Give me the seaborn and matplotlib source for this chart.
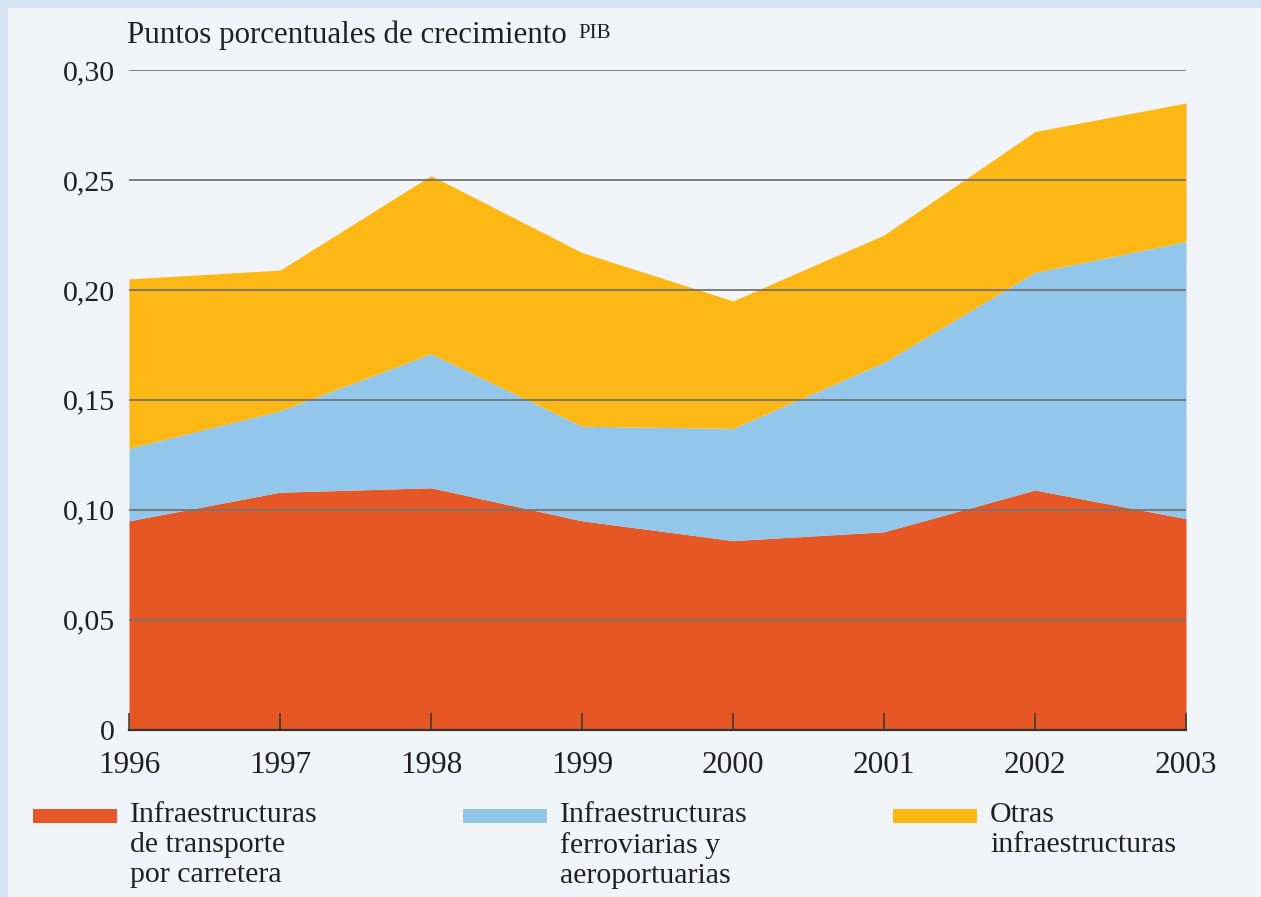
import matplotlib
matplotlib.use('Agg')
import matplotlib.pyplot as plt
from matplotlib.patches import Rectangle
import seaborn as sb
import pandas as pd
import numpy as np

years = [1996, 1997, 1998, 1999, 2000, 2001, 2002, 2003]
road = [0.095, 0.108, 0.110, 0.095, 0.086, 0.090, 0.109, 0.096]
rail_air = [0.033, 0.037, 0.061, 0.043, 0.051, 0.077, 0.099, 0.126]
other = [0.077, 0.064, 0.081, 0.079, 0.058, 0.058, 0.064, 0.063]
labels = ['Infraestructuras\nde transporte\npor carretera',
          'Infraestructuras\nferroviarias y\naeroportuarias',
          'Otras\ninfraestructuras']
yticks = [0, 0.05, 0.10, 0.15, 0.20, 0.25, 0.30]
ytick_labels = ['0', '0,05', '0,10', '0,15', '0,20', '0,25', '0,30']
colors = ['#e55826', '#92c7eb', '#fdb815']

sb.set_theme(style='white')
plt.rcParams['font.family'] = ['Liberation Serif', 'DejaVu Serif']

df = pd.DataFrame({'year': years, 'road': road, 'rail': rail_air, 'other': other})

fig = plt.figure(figsize=(12.61, 8.97), dpi=100)
fig.patch.set_facecolor('#d6e4f2')
# inner light panel
fig.patches.append(Rectangle((8 / 1261, 0), 1, 1 - 8 / 897, transform=fig.transFigure,
                             facecolor='#f1f5f9', edgecolor='none', zorder=-10))

ax = fig.add_axes([129 / 1261, 1 - 729.7 / 897, (1186 - 129) / 1261, (729.7 - 70) / 897])
ax.set_facecolor('none')
ax.stackplot(df['year'], df['road'], df['rail'], df['other'], colors=colors, lw=0)

ax.set_xlim(1996, 2003)
ax.set_ylim(0, 0.30)
ax.set_yticks(yticks)
ax.set_yticklabels(ytick_labels)
ax.set_xticks(years)
ax.set_xticklabels([str(y) for y in years])

ax.set_axisbelow(False)
ax.yaxis.grid(True, color='#737373', lw=1.3)
ax.xaxis.grid(False)
for s in ['left', 'right', 'top']:
    ax.spines[s].set_visible(False)
ax.spines['bottom'].set_color('#333333')
ax.spines['bottom'].set_linewidth(1.6)
ax.spines['bottom'].set_zorder(3)

ax.tick_params(axis='x', direction='in', length=12.5, width=1.1, color='#333333',
               pad=15, labelsize=22.5, labelcolor='#231f20', bottom=True)
ax.tick_params(axis='y', length=0, pad=10, labelsize=21.5, labelcolor='#231f20')

fig.text(127 / 1261, 1 - 35 / 897, 'Puntos porcentuales de crecimiento', fontsize=22.3,
         color='#231f20', va='center', ha='left')
fig.text(578 / 1261, 1 - 34 / 897, 'PIB', fontsize=15, color='#231f20', va='center', ha='left')

# legend
leg_x = [33, 463, 893]
for x0, lab, c in zip(leg_x, labels, colors):
    fig.patches.append(Rectangle((x0 / 1261, 1 - 823 / 897), 84 / 1261, 14 / 897,
                                 transform=fig.transFigure, facecolor=c, edgecolor='none'))
    fig.text((x0 + 97) / 1261, 1 - 801.5 / 897, lab, fontsize=21.5, color='#231f20',
             va='top', ha='left', linespacing=1.22)

fig.savefig('out.png', dpi=100, facecolor=fig.get_facecolor())
